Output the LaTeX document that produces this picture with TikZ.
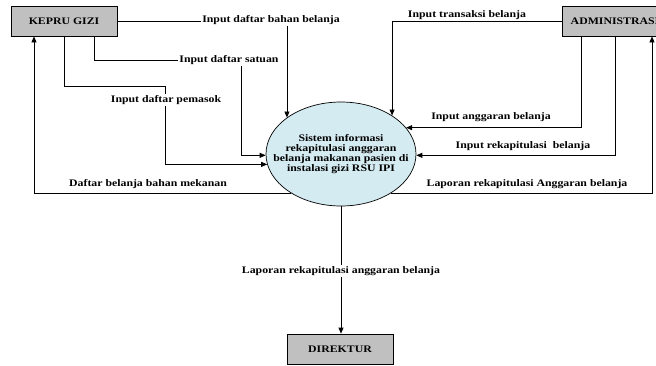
\documentclass[tikz,border=0pt]{standalone}
\usepackage{fontspec}
\setmainfont{Liberation Serif}[FakeStretch=1.18]
\usetikzlibrary{arrows.meta,shapes.geometric}
\definecolor{abu}{RGB}{192,192,192}
\definecolor{birumuda}{RGB}{212,235,241}

\begin{document}
\begin{tikzpicture}[x=1pt, y=-1pt, font=\fontsize{10}{10}\selectfont\bfseries,
                    entitas/.style={draw, fill=abu, line width=0.7pt, minimum width=106pt, minimum height=30pt, inner sep=0pt},
                    proses/.style={ellipse, draw, fill=birumuda, line width=0.7pt, minimum width=150pt, minimum height=104pt, inner sep=0pt},
                    alur/.style={-{Triangle[length=6pt,width=5pt]}, line width=0.7pt},
                    ket/.style={inner sep=1pt},
                    ketlatar/.style={fill=white, inner sep=1pt}]
  \clip (0,0) rectangle (656,365);
  \node[entitas] (kepru) at (64,21) {KEPRU GIZI};
  \node[entitas] (admin) at (615,21) {ADMINISTRASI};
  \node[entitas] (direktur) at (340,349) {DIREKTUR};
  \node[proses] (sistem) at (341,154) {};
  \node[align=center, inner sep=0pt] (teks) at (sistem) {Sistem informasi\\ rekapitulasi anggaran\\ belanja makanan pasien di\\ instalasi gizi RSU IPI};

  % dari KEPRU GIZI
  \draw[alur] (kepru.east) -| (sistem.146);
  \draw[alur] ([xshift=30pt]kepru.south) |- (241,60) |- (sistem.181);
  \draw[alur] (kepru.south) |- (165,86) |- (sistem.188);
  \draw[alur] (sistem.218) -| ([xshift=-30pt]kepru.south);

  % dari ADMINISTRASI
  \draw[alur] (admin.west) -| (sistem.37);
  \draw[alur] ([xshift=-34pt]admin.south) |- (sistem.22);
  \draw[alur] (admin.south) |- (sistem.359);
  \draw[alur] (sistem.322) -| ([xshift=37pt]admin.south);

  % ke DIREKTUR
  \draw[alur] (sistem.south) -- (sistem.south |- direktur.north);

  \node[ketlatar] (k1) at (271,20) {Input daftar bahan belanja};
  \node[ketlatar] (k2) at (229,60) {Input daftar satuan};
  \node[ketlatar] (k3) at (166,100) {Input daftar pemasok};
  \node[ket] (k4) at (148,184) {Daftar belanja bahan mekanan};
  \node[ket] (k5) at (467,15) {Input transaksi belanja};
  \node[ket] (k6) at (491,117) {Input anggaran belanja};
  \node[ket] (k7) at (523,146) {Input rekapitulasi\ \ belanja};
  \node[ket] (k8) at (527,184) {Laporan rekapitulasi Anggaran belanja};
  \node[ketlatar] (k9) at (341,271) {Laporan rekapitulasi anggaran belanja};
\end{tikzpicture}
\end{document}
